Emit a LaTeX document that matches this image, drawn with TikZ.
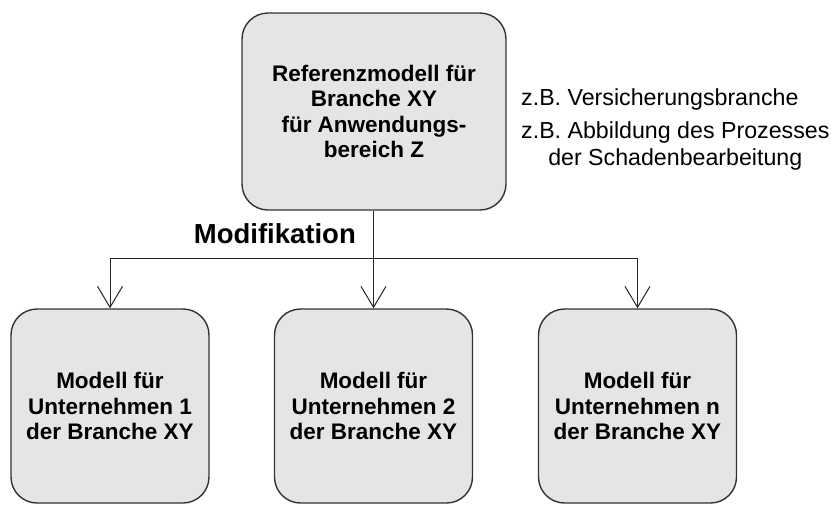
\documentclass[tikz,border=0pt]{standalone}
\usepackage{fontspec}
\setmainfont{Liberation Sans}
\usetikzlibrary{arrows.meta}
\begin{document}
\begin{tikzpicture}[x=1pt,y=-1pt,
  modelbox/.style={draw=black!80, line width=1.4pt, fill=black!10,
    rounded corners=26pt, align=center, inner sep=0pt,
    font=\fontsize{22.5}{25.5}\selectfont\bfseries},
  conn/.style={draw=black!85, line width=1pt},
  tip/.style={-{Straight Barb[length=21pt,width=25pt,line width=1pt]}},
  note/.style={font=\fontsize{23.2}{27}\selectfont, inner sep=0pt}]
\useasboundingbox (0,0) rectangle (831,504);
% reference model
\node[modelbox, minimum width=264pt, minimum height=197pt] (ref) at (374,111.5)
  {Referenzmodell für\\Branche XY\\für Anwendungs-\\bereich Z};
% company models
\node[modelbox, minimum width=198pt, minimum height=194pt] (m1) at (110,406)
  {Modell für\\Unternehmen 1\\der Branche XY};
\node[modelbox, minimum width=198pt, minimum height=194pt] (m2) at (373.5,406)
  {Modell für\\Unternehmen 2\\der Branche XY};
\node[modelbox, minimum width=198pt, minimum height=194pt] (mn) at (637.5,406)
  {Modell für\\Unternehmen n\\der Branche XY};
% modification branching
\coordinate (split) at (373.5,258);
\draw[conn] (ref.south -| split) -- (split);
\draw[conn, tip] (split) -- (m2.north);
\draw[conn, tip] (split) -| (m1.north);
\draw[conn, tip] (split) -| (mn.north);
\node[anchor=base east, inner sep=0pt, font=\fontsize{27.5}{30}\selectfont\bfseries]
  (mod) at (356,243) {Modifikation};
% side notes
\node[note, anchor=base west] (n1) at (521,105) {z.B. Versicherungsbranche};
\node[note, anchor=north west, align=center] (n2) at (521,121)
  {z.B. Abbildung des Prozesses\\der Schadenbearbeitung};
\end{tikzpicture}
\end{document}
